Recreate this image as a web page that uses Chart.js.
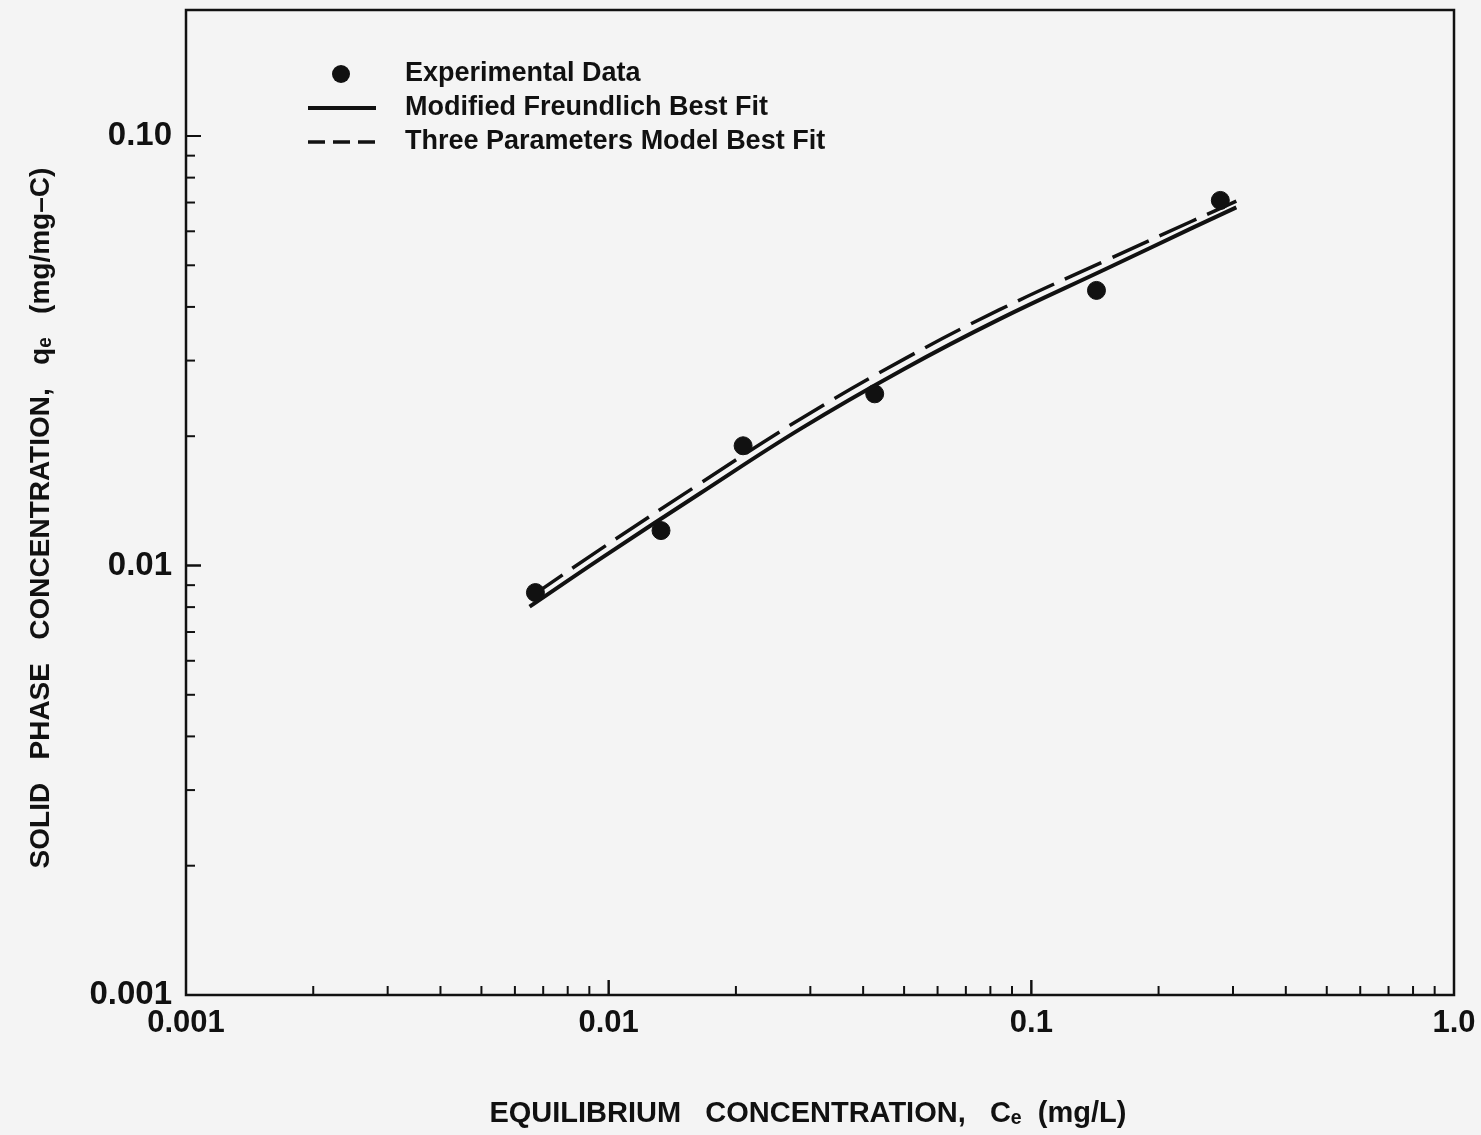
<!DOCTYPE html>
<html>
<head>
<meta charset="utf-8">
<title>Adsorption isotherm</title>
<script src="https://cdn.jsdelivr.net/npm/chart.js@4.4.0/dist/chart.umd.min.js"></script>
<style>
  html, body { margin: 0; padding: 0; background: #f4f4f4; }
  #wrap { width: 1481px; height: 1135px; position: relative; }
</style>
</head>
<body>
<div id="wrap"><canvas id="isoChart"></canvas></div>
<script>
// --- Data ---
const expC = [0.00671, 0.0133, 0.0208, 0.0426, 0.1426, 0.280];
const expQ = [0.00865, 0.01206, 0.0190, 0.0251, 0.0437, 0.0708];

const fitC = [0.0065, 0.00953, 0.0164, 0.0283, 0.05, 0.0839, 0.15, 0.2404, 0.3055];
const freundlichQ = [0.00802, 0.01035, 0.01469, 0.02075, 0.02868, 0.03741, 0.0490, 0.0611, 0.0682];
const threeParamQ = [0.00842, 0.01089, 0.01549, 0.02188, 0.03023, 0.03936, 0.05129, 0.0634, 0.0705];

const xTickValues = [0.001, 0.01, 0.1, 1.0];
const xTickLabels = ['0.001', '0.01', '0.1', '1.0'];
const yTickValues = [0.001, 0.01, 0.1];
const yTickLabels = ['0.001', '0.01', '0.10'];

const legendLabels = ['Experimental Data', 'Modified Freundlich Best Fit', 'Three Parameters Model Best Fit'];

const ink = '#111';
const fontFamily = '"Liberation Sans", Arial, sans-serif';

function toPoints(xs, ys) {
    return xs.map((x, i) => ({ x: x, y: ys[i] }));
}

// --- Frame + inward log ticks ---
const frameTicks = {
    id: 'frameTicks',
    afterDraw(chart) {
        const ctx = chart.ctx;
        const a = chart.chartArea;
        const xs = chart.scales.x;
        const ys = chart.scales.y;
        ctx.save();
        ctx.strokeStyle = ink;
        ctx.lineWidth = 2.5;
        ctx.strokeRect(a.left, a.top, a.right - a.left, a.bottom - a.top);

        ctx.lineWidth = 2;
        const decades = [0.001, 0.01, 0.1];
        decades.forEach(d => {
            for (let m = 1; m <= 10; m++) {
                const v = d * m;
                const len = (m === 1 || m === 10) ? 15 : 9;
                if (v >= xs.min && v <= xs.max) {
                    const px = xs.getPixelForValue(v);
                    ctx.beginPath();
                    ctx.moveTo(px, a.bottom);
                    ctx.lineTo(px, a.bottom - len);
                    ctx.stroke();
                }
                if (v >= ys.min && v <= ys.max) {
                    const py = ys.getPixelForValue(v);
                    ctx.beginPath();
                    ctx.moveTo(a.left, py);
                    ctx.lineTo(a.left + len, py);
                    ctx.stroke();
                }
            }
        });
        ctx.restore();
    }
};

// --- Legend inside the plot, top left ---
const insideLegend = {
    id: 'insideLegend',
    afterDraw(chart) {
        const ctx = chart.ctx;
        const ds = chart.data.datasets;
        const rowY = [74, 108, 142];
        ctx.save();
        ctx.fillStyle = ink;
        ctx.strokeStyle = ink;
        ctx.font = 'bold 27px ' + fontFamily;
        ctx.textBaseline = 'middle';

        // dot
        ctx.beginPath();
        ctx.arc(341, rowY[0], ds[0].pointRadius, 0, Math.PI * 2);
        ctx.fill();
        // solid
        ctx.lineWidth = ds[1].borderWidth;
        ctx.beginPath();
        ctx.moveTo(308, rowY[1]);
        ctx.lineTo(376, rowY[1]);
        ctx.stroke();
        // dashed
        ctx.lineWidth = ds[2].borderWidth;
        ctx.setLineDash([17, 8]);
        ctx.beginPath();
        ctx.moveTo(308, rowY[2]);
        ctx.lineTo(376, rowY[2]);
        ctx.stroke();
        ctx.setLineDash([]);

        legendLabels.forEach((t, i) => ctx.fillText(t, 405, rowY[i]));
        ctx.restore();
    }
};

const ctxIso = document.getElementById('isoChart').getContext('2d');
new Chart(ctxIso, {
    type: 'scatter',
    data: {
        datasets: [
            {
                label: legendLabels[0],
                data: toPoints(expC, expQ),
                backgroundColor: ink,
                borderColor: ink,
                pointRadius: 9,
                showLine: false
            },
            {
                label: legendLabels[1],
                data: toPoints(fitC, freundlichQ),
                borderColor: ink,
                borderWidth: 4,
                pointRadius: 0,
                showLine: true,
                tension: 0.4
            },
            {
                label: legendLabels[2],
                data: toPoints(fitC, threeParamQ),
                borderColor: ink,
                borderWidth: 3.5,
                borderDash: [40, 12],
                pointRadius: 0,
                showLine: true,
                tension: 0.4
            }
        ]
    },
    options: {
        responsive: true,
        maintainAspectRatio: false,
        animation: false,
        layout: { padding: { top: 10, right: 27, left: 0, bottom: 0 } },
        plugins: {
            legend: { display: false },
            tooltip: { enabled: false }
        },
        scales: {
            x: {
                type: 'logarithmic',
                min: 0.001,
                max: 1.0,
                afterFit: (scale) => {
                    scale.height = 140;
                    scale.paddingLeft = 0;
                    scale.paddingRight = 0;
                },
                afterBuildTicks: (scale) => { scale.ticks = xTickValues.map(v => ({ value: v })); },
                grid: { display: false, drawTicks: false },
                border: { display: false },
                ticks: {
                    color: ink,
                    padding: 10,
                    maxRotation: 0,
                    font: { family: fontFamily, size: 31, weight: 'bold' },
                    callback: (value, index) => xTickLabels[index]
                },
                title: {
                    display: true,
                    text: 'EQUILIBRIUM   CONCENTRATION,   Cₑ  (mg/L)   ',
                    color: ink,
                    font: { family: fontFamily, size: 29, weight: 'bold' },
                    padding: { top: 0, bottom: 4 }
                }
            },
            y: {
                type: 'logarithmic',
                min: 0.001,
                max: 0.1965,
                afterFit: (scale) => {
                    scale.width = 186;
                    scale.paddingTop = 0;
                    scale.paddingBottom = 0;
                },
                afterBuildTicks: (scale) => { scale.ticks = yTickValues.map(v => ({ value: v })); },
                grid: { display: false, drawTicks: false },
                border: { display: false },
                ticks: {
                    color: ink,
                    padding: 14,
                    font: { family: fontFamily, size: 33, weight: 'bold' },
                    callback: (value, index) => yTickLabels[index]
                },
                title: {
                    display: true,
                    text: 'SOLID   PHASE   CONCENTRATION,   qₑ   (mg/mg–C)    ',
                    color: ink,
                    font: { family: fontFamily, size: 28, weight: 'bold' },
                    padding: { top: 24, bottom: 0 }
                }
            }
        }
    },
    plugins: [frameTicks, insideLegend]
});
</script>
</body>
</html>
